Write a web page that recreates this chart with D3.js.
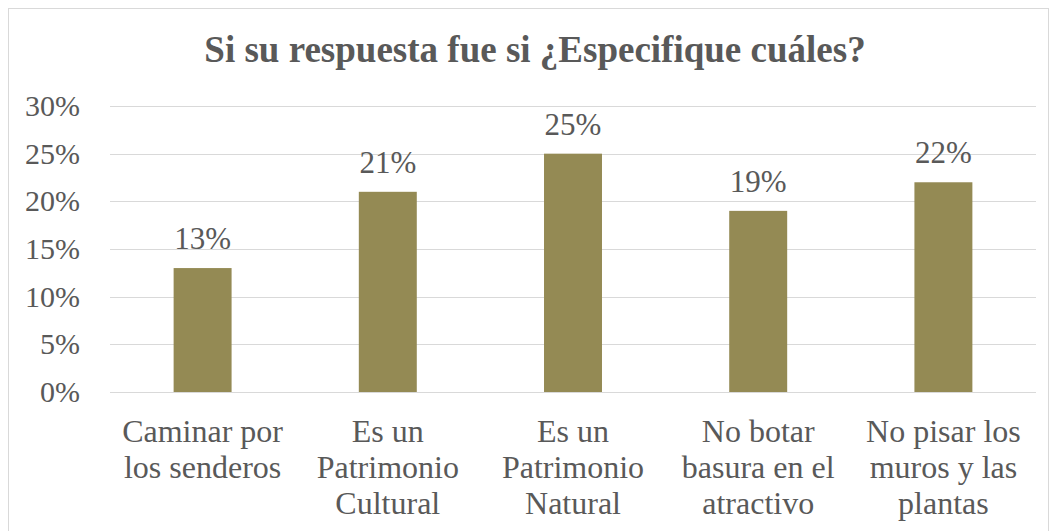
<!DOCTYPE html>
<html>
<head>
<meta charset="utf-8">
<script src="https://cdn.jsdelivr.net/npm/d3@7"></script>
<style>
body{margin:0;background:#fff;}
svg text{font-family:'Liberation Serif','Times New Roman',Times,serif;fill:#595959;}
</style>
</head>
<body>
<script>
// chart values
const categories=[
  ['Caminar por','los senderos'],
  ['Es un','Patrimonio','Cultural'],
  ['Es un','Patrimonio','Natural'],
  ['No botar','basura en el','atractivo'],
  ['No pisar los','muros y las','plantas']
]
const values=[0.13,0.21,0.25,0.19,0.22]
const yTicks=[0,0.05,0.10,0.15,0.20,0.25,0.30]
const title='Si su respuesta fue si ¿Especifique cuáles?'

const W=1056,H=531
var svg=d3.select('body').append('svg').attr('width',W).attr('height',H)

// outer frame
svg.append('rect').attr('x',8.5).attr('y',8.5).attr('width',1040).attr('height',530)
  .attr('fill','#fff').attr('stroke','#d9d9d9').attr('stroke-width',1)

svg.append('text').attr('x',535).attr('y',62).attr('text-anchor','middle')
  .style('font-size','37px').style('font-weight','bold').text(title)

let pLeft=110,pRight=1036,pTop=106,pBottom=392

var x=d3.scaleBand().domain(d3.range(values.length)).range([pLeft,pRight]).paddingInner(0.687).paddingOuter(0.3435)
var y=d3.scaleLinear().domain([0,0.30]).range([pBottom,pTop])

// gridlines
svg.append('g').selectAll('line').data(yTicks).join('line')
  .attr('x1',pLeft).attr('x2',pRight)
  .attr('y1',d=>Math.round(y(d))+0.5).attr('y2',d=>Math.round(y(d))+0.5)
  .attr('stroke','#d9d9d9').attr('stroke-width',1)

// y axis labels
svg.append('g').selectAll('text').data(yTicks).join('text')
  .attr('x',80).attr('y',d=>y(d)+10).attr('text-anchor','end')
  .style('font-size','30px').text(d3.format('.0%'))

// bars
svg.append('g').selectAll('rect').data(values).join('rect')
  .attr('x',(d,i)=>x(i)).attr('width',x.bandwidth())
  .attr('y',d=>y(d)).attr('height',d=>y(0)-y(d))
  .attr('fill','#948a54')

// value labels
svg.append('g').selectAll('text').data(values).join('text')
  .attr('x',(d,i)=>x(i)+x.bandwidth()/2).attr('y',d=>y(d)-19)
  .attr('text-anchor','middle').style('font-size','31px')
  .text(d3.format('.0%'))

// category labels
var cat=svg.append('g').selectAll('text').data(categories).join('text')
  .attr('text-anchor','middle').style('font-size','32px')
  .attr('transform',(d,i)=>'translate('+(x(i)+x.bandwidth()/2)+',0)')
cat.selectAll('tspan').data(d=>d).join('tspan')
  .attr('x',0).attr('y',(d,j)=>442+j*35.8).text(d=>d)
</script>
</body>
</html>
